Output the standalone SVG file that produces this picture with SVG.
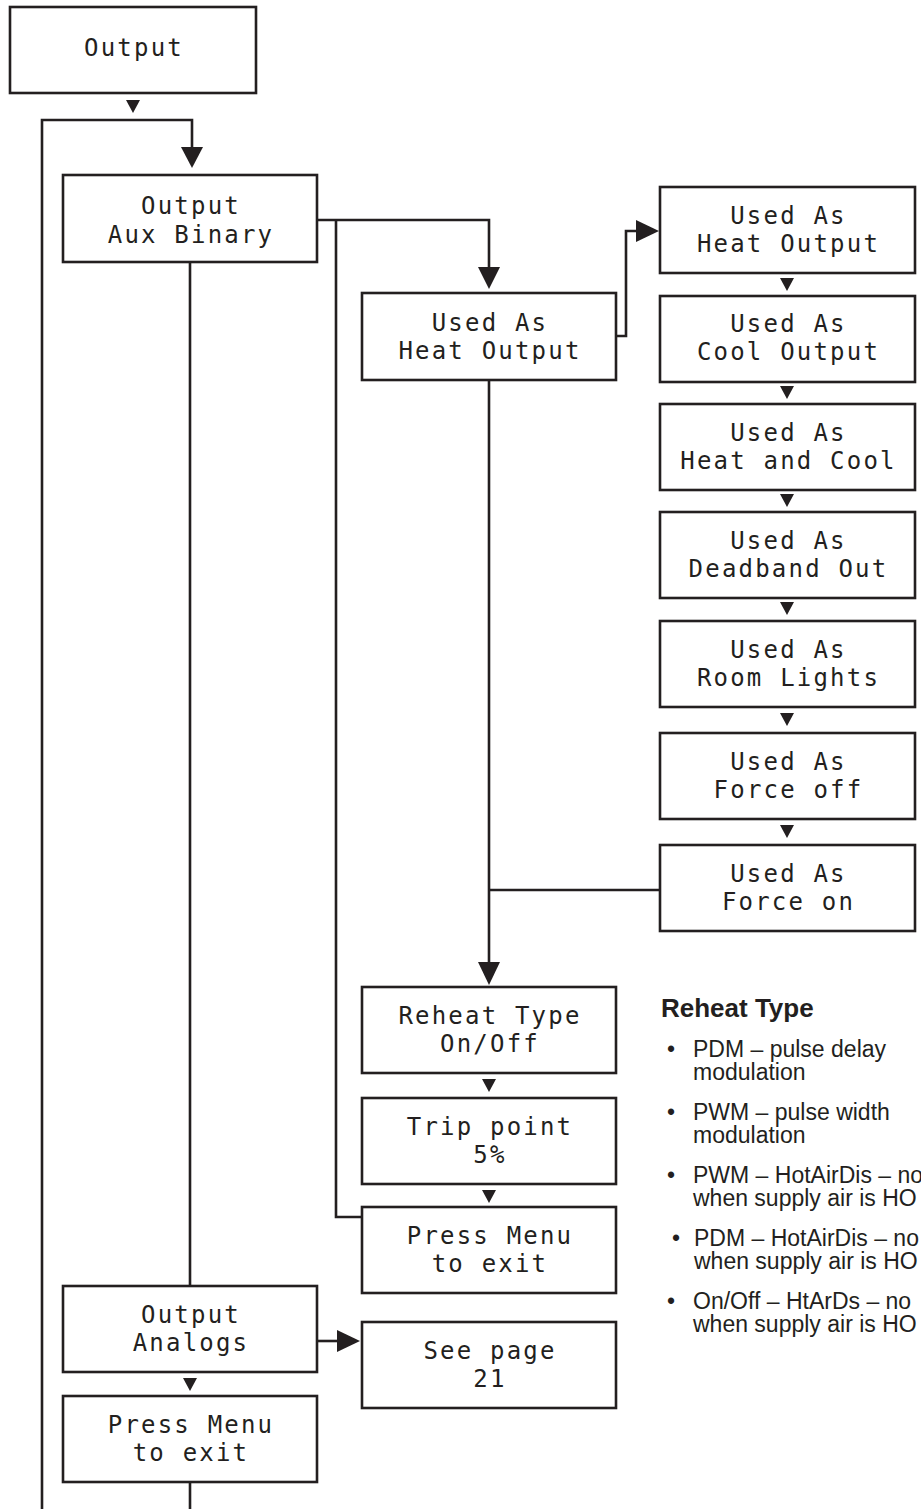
<svg xmlns="http://www.w3.org/2000/svg" width="921" height="1509" viewBox="0 0 921 1509">
<style>
.box{fill:#fff;stroke:#231f20;stroke-width:2.6}
.ln{fill:none;stroke:#231f20;stroke-width:2.6}
.ah{fill:#231f20;stroke:none}
.t{font-family:"DejaVu Sans Mono","Liberation Mono",monospace;font-size:24px;letter-spacing:2.2px;fill:#231f20;text-anchor:middle}
.h{font-family:"Liberation Sans",Arial,sans-serif;font-size:26px;font-weight:bold;fill:#231f20}
.b{font-family:"Liberation Sans",Arial,sans-serif;font-size:23px;fill:#231f20}
</style>
<defs>
<path id="sa" d="M-7,0 H7 L0,13 Z"/>
</defs>
<rect width="921" height="1509" fill="#fff"/>
<g id="connectors">
<path class="ln" d="M42,1509 V120 H192 V150"/>
<path class="ah" d="M181,147 H203 L192,168 Z"/>
<use href="#sa" class="ah" x="133" y="100"/>
<path class="ln" d="M317,220 H489 V268"/>
<path class="ah" d="M478,267 H500 L489,289 Z"/>
<path class="ln" d="M336,220 V1217 H362"/>
<path class="ln" d="M190,262 V1286"/>
<path class="ln" d="M616,336 H626 V231 H638"/>
<path class="ah" d="M636,220 V242 L659,231 Z"/>
<use href="#sa" class="ah" x="787" y="278"/>
<use href="#sa" class="ah" x="787" y="386"/>
<use href="#sa" class="ah" x="787" y="494"/>
<use href="#sa" class="ah" x="787" y="602"/>
<use href="#sa" class="ah" x="787" y="713"/>
<use href="#sa" class="ah" x="787" y="825"/>
<path class="ln" d="M489,380 V964"/>
<path class="ln" d="M489,890 H660"/>
<path class="ah" d="M478,962 H500 L489,985 Z"/>
<use href="#sa" class="ah" x="489" y="1079"/>
<use href="#sa" class="ah" x="489" y="1190"/>
<path class="ln" d="M317,1341 H340"/>
<path class="ah" d="M337,1330 V1352 L360,1341 Z"/>
<use href="#sa" class="ah" x="190" y="1378"/>
<path class="ln" d="M190,1482 V1509"/>
</g>
<g id="n-output"><rect class="box" x="10" y="7" width="246" height="86"/><text class="t" x="134" y="56">Output</text></g>
<g id="n-aux"><rect class="box" x="63" y="175" width="254" height="87"/><text class="t" x="191" y="214">Output</text><text class="t" x="191" y="243">Aux Binary</text></g>
<g id="n-mid-heat"><rect class="box" x="362" y="293" width="254" height="87"/><text class="t" x="490" y="331">Used As</text><text class="t" x="490" y="359">Heat Output</text></g>
<g id="n-r1"><rect class="box" x="660" y="187" width="255" height="86"/><text class="t" x="788.5" y="224">Used As</text><text class="t" x="788.5" y="252">Heat Output</text></g>
<g id="n-r2"><rect class="box" x="660" y="296" width="255" height="86"/><text class="t" x="788.5" y="332">Used As</text><text class="t" x="788.5" y="360">Cool Output</text></g>
<g id="n-r3"><rect class="box" x="660" y="404" width="255" height="86"/><text class="t" x="788.5" y="441">Used As</text><text class="t" x="788.5" y="469">Heat and Cool</text></g>
<g id="n-r4"><rect class="box" x="660" y="512" width="255" height="86"/><text class="t" x="788.5" y="549">Used As</text><text class="t" x="788.5" y="577">Deadband Out</text></g>
<g id="n-r5"><rect class="box" x="660" y="621" width="255" height="86"/><text class="t" x="788.5" y="658">Used As</text><text class="t" x="788.5" y="686">Room Lights</text></g>
<g id="n-r6"><rect class="box" x="660" y="733" width="255" height="86"/><text class="t" x="788.5" y="770">Used As</text><text class="t" x="788.5" y="798">Force off</text></g>
<g id="n-r7"><rect class="box" x="660" y="845" width="255" height="86"/><text class="t" x="788.5" y="882">Used As</text><text class="t" x="788.5" y="910">Force on</text></g>
<g id="n-reheat"><rect class="box" x="362" y="987" width="254" height="86"/><text class="t" x="490" y="1024">Reheat Type</text><text class="t" x="490" y="1052">On/Off</text></g>
<g id="n-trip"><rect class="box" x="362" y="1098" width="254" height="86"/><text class="t" x="490" y="1135">Trip point</text><text class="t" x="490" y="1163">5%</text></g>
<g id="n-press1"><rect class="box" x="362" y="1207" width="254" height="86"/><text class="t" x="490" y="1244">Press Menu</text><text class="t" x="490" y="1272">to exit</text></g>
<g id="n-analogs"><rect class="box" x="63" y="1286" width="254" height="86"/><text class="t" x="191" y="1323">Output</text><text class="t" x="191" y="1351">Analogs</text></g>
<g id="n-seepage"><rect class="box" x="362" y="1322" width="254" height="86"/><text class="t" x="490" y="1359">See page</text><text class="t" x="490" y="1387">21</text></g>
<g id="n-press2"><rect class="box" x="63" y="1396" width="254" height="86"/><text class="t" x="191" y="1433">Press Menu</text><text class="t" x="191" y="1461">to exit</text></g>
<g id="notes">
<text class="h" x="661" y="1017">Reheat Type</text>
<text class="b" x="667" y="1057">•</text><text class="b" x="693" y="1057">PDM – pulse delay</text><text class="b" x="693" y="1080">modulation</text>
<text class="b" x="667" y="1120">•</text><text class="b" x="693" y="1120">PWM – pulse width</text><text class="b" x="693" y="1143">modulation</text>
<text class="b" x="667" y="1183">•</text><text class="b" x="693" y="1183">PWM – HotAirDis – no</text><text class="b" x="693" y="1206">when supply air is HO</text>
<text class="b" x="672" y="1246">•</text><text class="b" x="694" y="1246">PDM – HotAirDis – no</text><text class="b" x="694" y="1269">when supply air is HO</text>
<text class="b" x="667" y="1309">•</text><text class="b" x="693" y="1309">On/Off – HtArDs – no</text><text class="b" x="693" y="1332">when supply air is HO</text>
</g>
</svg>
